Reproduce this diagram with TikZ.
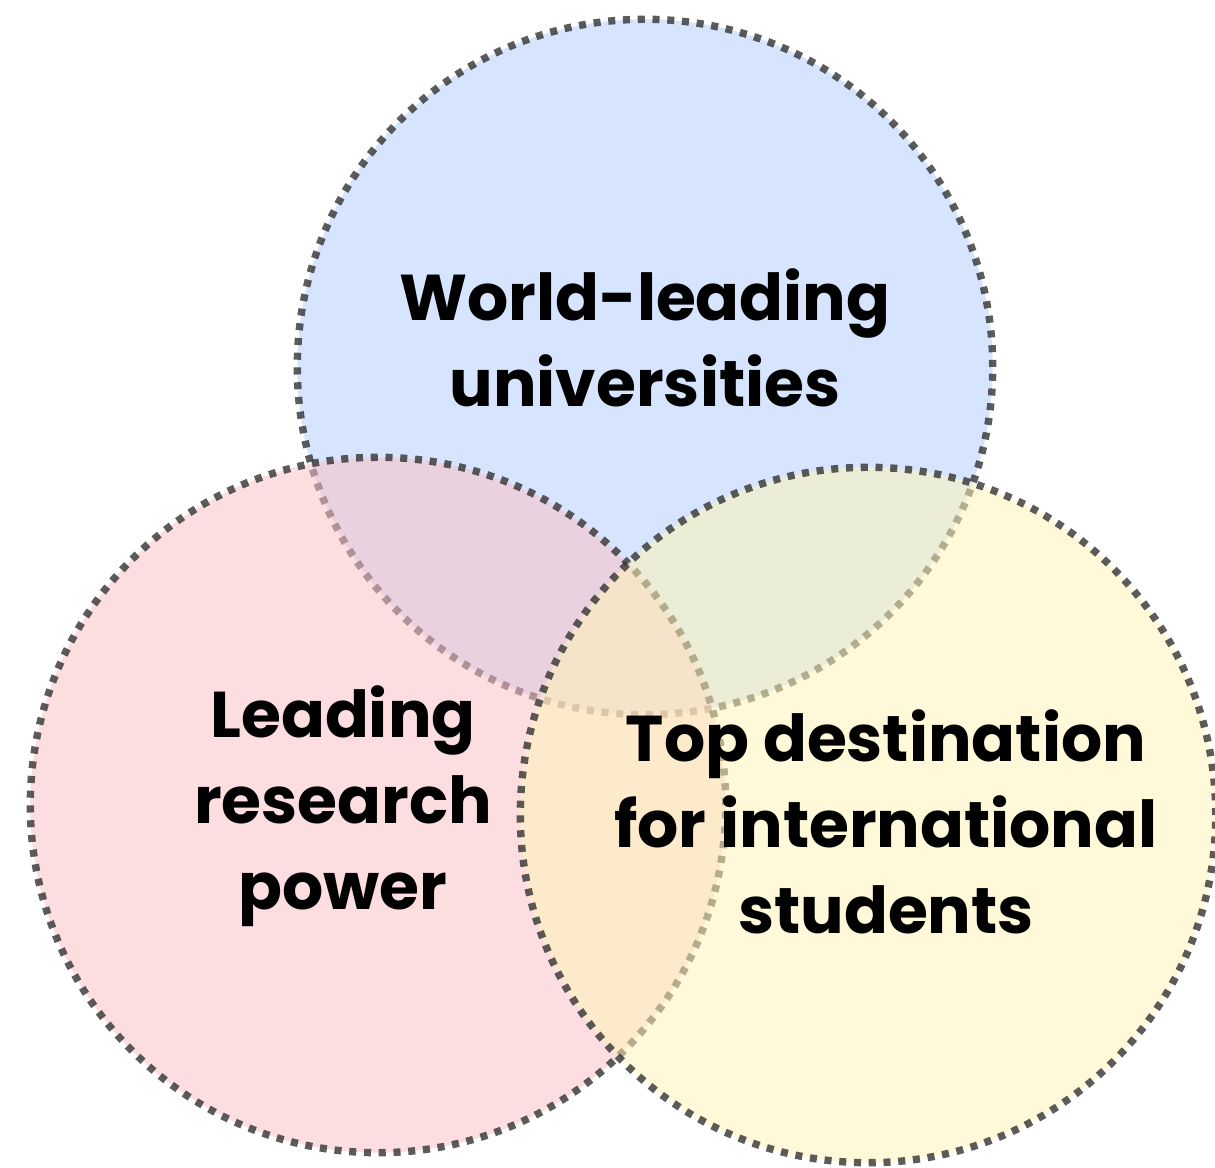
\documentclass[tikz,border=0pt]{standalone}
\usepackage{fontspec}
\setmainfont{Poppins}
\definecolor{univblue}{RGB}{180,206,251}
\definecolor{researchpink}{RGB}{250,193,199}
\definecolor{destyellow}{RGB}{255,244,185}

\begin{document}
\begin{tikzpicture}[x=0.01cm,y=-0.01cm]
\tikzstyle{set}=[circle, minimum size=6.95cm, inner sep=0pt, line width=2.1pt, draw=black!80, draw opacity=0.8, dash pattern=on 2pt off 2.2pt, fill opacity=0.55]
\tikzstyle{settext}=[align=center, inner sep=0pt, font=\bfseries\fontsize{18.4pt}{24.4pt}\selectfont]
  \useasboundingbox (0,0) rectangle (1215,1168);
  % the three sets, later ones on top
  \node[set, fill=univblue] (univ) at (645,367) {};
  \node[set, fill=researchpink] (research) at (378,805) {};
  \node[set, fill=destyellow] (dest) at (868,815) {};
  % captions
  \node[settext] (univtext) at (645,338) {World-leading\\universities};
  \node[settext] (researchtext) at (343,806) {Leading\\research\\power};
  \node[settext] (desttext) at (886,822) {Top destination\\for international\\students};
\end{tikzpicture}
\end{document}
